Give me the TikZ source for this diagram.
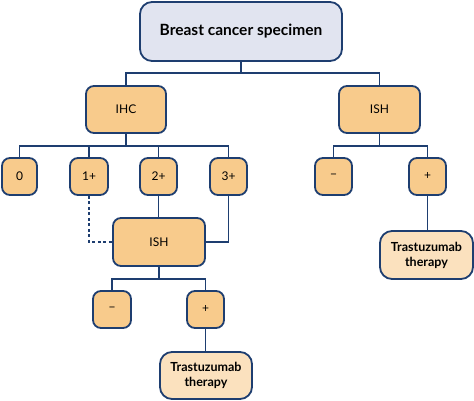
\documentclass[tikz,border=0pt]{standalone}
\usepackage{fontspec}
\setmainfont{Lato}
\definecolor{navy}{HTML}{1E3E70}
\definecolor{topfill}{HTML}{E1E4F0}
\definecolor{orfill}{HTML}{F8CB8C}
\definecolor{trfill}{HTML}{FBE1BE}
\begin{document}
\begin{tikzpicture}[x=1pt,y=-1pt,
  box/.style={draw=navy,line width=1.8pt,rounded corners=8pt,fill=orfill,align=center,inner sep=0pt,font=\fontsize{12}{14}\selectfont},
  link/.style={draw=navy,line width=1.8pt},
  dlink/.style={draw=navy,line width=1.3pt,dash pattern=on 3pt off 2.5pt}]
\useasboundingbox (0,0) rectangle (474,401);
\node[box,fill=topfill,rounded corners=12pt,minimum width=202pt,minimum height=59pt,font=\fontsize{15.5}{18}\selectfont\bfseries] (top) at (241,31.5) {Breast cancer specimen};
\node[box,minimum width=80pt,minimum height=47pt] (ihc) at (126,109.5) {IHC};
\node[box,minimum width=81pt,minimum height=47pt] (ishr) at (379.5,109.5) {ISH};
\node[box,minimum width=35pt,minimum height=37pt] (s0) at (19.5,176.5) {0};
\node[box,minimum width=38pt,minimum height=37pt] (s1) at (89,176.5) {1+};
\node[box,minimum width=37pt,minimum height=37pt] (s2) at (158.5,176.5) {2+};
\node[box,minimum width=37pt,minimum height=37pt] (s3) at (228.5,176.5) {3+};
\node[box,minimum width=37pt,minimum height=37pt] (rm) at (333.5,176.5) {−};
\node[box,minimum width=37pt,minimum height=37pt] (rp) at (427.5,176.5) {+};
\node[box,minimum width=92pt,minimum height=48pt] (ishm) at (159,242) {ISH};
\node[box,minimum width=38pt,minimum height=37pt] (mm) at (112,309.5) {−};
\node[box,minimum width=37pt,minimum height=37pt] (mp) at (205.5,309.5) {+};
\node[box,fill=trfill,rounded corners=12pt,minimum width=92pt,minimum height=47pt,font=\fontsize{12.5}{15}\selectfont\bfseries] (trm) at (206,375.5) {Trastuzumab\\therapy};
\node[box,fill=trfill,rounded corners=12pt,minimum width=93pt,minimum height=48pt,font=\fontsize{12.5}{15}\selectfont\bfseries] (trr) at (426.5,255) {Trastuzumab\\therapy};
% connectors
\coordinate (j1) at (241,73);
\draw[link] (top.south) -- (j1);
\draw[link] (ihc.north) |- (j1) -| (ishr.north);
\coordinate (j2) at (126,146);
\draw[link] (ihc.south) -- (j2);
\draw[link] (s0.north) |- (j2) -| (s3.north);
\draw[link] (s1.north) -- (s1.north |- j2);
\draw[link] (s2.north) -- (s2.north |- j2);
\coordinate (j3) at (379.5,146);
\draw[link] (ishr.south) -- (j3);
\draw[link] (rm.north) |- (j3) -| (rp.north);
\draw[link] (s2.south) -- (s2.south |- ishm.north);
\draw[link] (s3.south) |- (ishm.east);
\draw[dlink] (s1.south) |- (ishm.west);
\coordinate (j4) at (159,279);
\draw[link] (ishm.south) -- (j4);
\draw[link] (mm.north) |- (j4) -| (mp.north);
\draw[link] (mp.south) -- (mp.south |- trm.north);
\draw[link] (rp.south) -- (rp.south |- trr.north);
\end{tikzpicture}
\end{document}
